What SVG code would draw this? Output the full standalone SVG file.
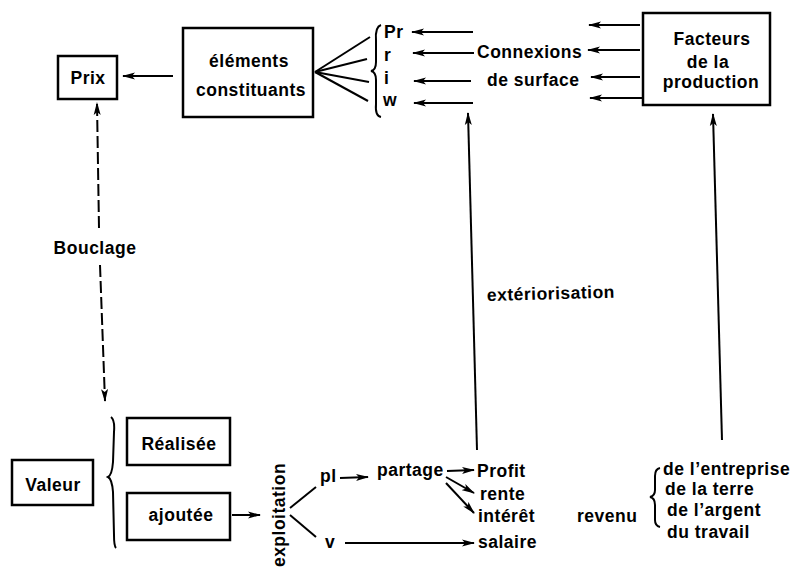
<svg xmlns="http://www.w3.org/2000/svg" width="797" height="567" viewBox="0 0 797 567">
<style>
text{font-family:"Liberation Sans",Arial,sans-serif;font-size:17.5px;font-weight:bold;letter-spacing:0.5px;fill:#000}
.c{text-anchor:middle}
.box{fill:#fff;stroke:#000;stroke-width:2.5}
.ln{fill:none;stroke:#000;stroke-width:2}
.ar{fill:none;stroke:#000;stroke-width:2;marker-end:url(#ah)}
.ds{fill:none;stroke:#000;stroke-width:2;stroke-dasharray:12 4}
.br{fill:none;stroke:#000;stroke-width:2}
</style>
<defs>
<marker id="ah" markerUnits="userSpaceOnUse" markerWidth="13" markerHeight="8" refX="12" refY="4" orient="auto">
<path d="M0,0.5 L13,4 L0,7.5 L3,4 z" fill="#000"/>
</marker>
</defs>
<rect width="797" height="567" fill="#fff"/>
<g id="connectors">
<line class="ar" x1="173" y1="76" x2="123" y2="76"/>
<line class="ln" x1="315" y1="72" x2="370" y2="37"/>
<line class="ln" x1="315" y1="72" x2="367" y2="59"/>
<line class="ln" x1="315" y1="72" x2="369" y2="82"/>
<line class="ln" x1="315" y1="72" x2="368" y2="101"/>
<line class="ar" x1="473" y1="32" x2="412" y2="32"/>
<line class="ar" x1="474" y1="53" x2="413" y2="53"/>
<line class="ar" x1="471" y1="81" x2="414" y2="81"/>
<line class="ar" x1="473" y1="103" x2="414" y2="103"/>
<line class="ar" x1="640" y1="25" x2="589" y2="25"/>
<line class="ar" x1="640" y1="50" x2="588" y2="50"/>
<line class="ar" x1="640" y1="77" x2="591" y2="77"/>
<line class="ar" x1="643" y1="98" x2="590" y2="98"/>
<line class="ar" x1="477" y1="450" x2="468" y2="113"/>
<line class="ar" x1="722" y1="440" x2="713" y2="114"/>
<line class="ds" x1="99" y1="228" x2="97" y2="103" marker-end="url(#ah)"/>
<line class="ds" x1="100" y1="265" x2="105" y2="401" marker-end="url(#ah)"/>
<line class="ar" x1="232" y1="515" x2="260" y2="515"/>
<line class="ln" x1="290" y1="508" x2="316" y2="487"/>
<line class="ln" x1="290" y1="515" x2="316" y2="537"/>
<line class="ar" x1="340" y1="478" x2="368" y2="477"/>
<line class="ar" x1="345" y1="543" x2="474" y2="543"/>
<line class="ar" x1="447" y1="471" x2="474" y2="470"/>
<line class="ar" x1="446" y1="477" x2="474" y2="493"/>
<line class="ar" x1="446" y1="483" x2="474" y2="513"/>
</g>
<g id="prix">
<rect class="box" x="58" y="56" width="59" height="43"/>
<text class="c" x="88" y="84">Prix</text>
</g>
<g id="elements">
<rect class="box" x="183" y="28" width="130" height="89"/>
<text class="c" x="249" y="67">éléments</text>
<text class="c" x="251" y="96">constituants</text>
</g>
<g id="composantes">
<path class="br" d="M381,25 Q375,27 376,40 L376,62 Q376,70 371,71 Q376,72 376,80 L376,104 Q375,116 381,117"/>
<text x="384" y="38">Pr</text>
<text x="384" y="61">r</text>
<text x="384" y="84">i</text>
<text x="383" y="106">w</text>
</g>
<g id="connexions">
<text x="477" y="58">Connexions</text>
<text x="487" y="86">de surface</text>
</g>
<g id="facteurs">
<rect class="box" x="643" y="13" width="127" height="92"/>
<text class="c" x="712" y="45">Facteurs</text>
<text class="c" x="708" y="68">de la</text>
<text class="c" x="711" y="88">production</text>
</g>
<g id="bouclage">
<text class="c" x="95" y="254">Bouclage</text>
</g>
<g id="exteriorisation">
<text x="487" y="301" transform="rotate(-1.5 487 301)">extériorisation</text>
</g>
<g id="valeur">
<rect class="box" x="12" y="460" width="81" height="45"/>
<text class="c" x="53" y="491">Valeur</text>
<path class="br" d="M111,417 Q115,420 114,432 L113,462 Q112,475 108,477 Q112,479 113,492 L114,535 Q114,546 116,548"/>
</g>
<g id="realisee">
<rect class="box" x="127" y="418" width="103" height="47"/>
<text class="c" x="179" y="450">Réalisée</text>
</g>
<g id="ajoutee">
<rect class="box" x="127" y="493" width="103" height="47"/>
<text class="c" x="181" y="521">ajoutée</text>
</g>
<g id="exploitation">
<text class="c" transform="translate(285,515) rotate(-90)">exploitation</text>
</g>
<g id="repartition">
<text x="320" y="482">pl</text>
<text x="325" y="548">v</text>
<text x="377" y="476">partage</text>
<text x="477" y="477">Profit</text>
<text x="480" y="500">rente</text>
<text x="478" y="522">intérêt</text>
<text x="478" y="548">salaire</text>
</g>
<g id="revenu">
<text x="577" y="522">revenu</text>
<path class="br" d="M660,468 Q655,469 655,476 L655,490 Q655,496 650,497 Q655,498 655,505 L655,520 Q655,526 660,527"/>
<text x="663" y="475">de l’entreprise</text>
<text x="665" y="495">de la terre</text>
<text x="667" y="516">de l’argent</text>
<text x="667" y="538">du travail</text>
</g>
</svg>
